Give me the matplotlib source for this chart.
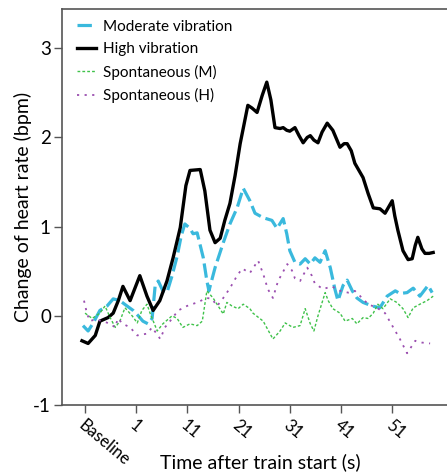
import numpy as np
import matplotlib
matplotlib.use('Agg')
import matplotlib.pyplot as plt
import matplotlib.transforms as mtransforms

plt.rcParams['font.family'] = ['Lato', 'DejaVu Sans']

# heart rate change (bpm) vs time after train start (s); baseline sits at x = -9
high_t = [-9.6, -8.4, -7.0, -6.1, -4.5, -3.5, -2.5, -1.6, -0.2, 1.7, 3.1, 4.3, 5.6, 7.0,
          8.2, 9.6, 10.7, 11.5, 13.5, 14.4, 15.4, 16.4, 17.4, 18.3, 19.3, 20.3, 21.3,
          22.0, 22.8, 23.6, 24.6, 25.6, 26.5, 27.3, 28.1, 29.1, 29.7, 30.4, 31.0, 32.0,
          32.8, 33.6, 34.4, 35.0, 35.7, 36.5, 37.3, 38.3, 39.4, 40.8, 41.6, 42.2, 43.0,
          43.7, 44.7, 45.3, 46.3, 47.3, 48.6, 49.6, 50.2, 51.0, 51.5, 52.1, 53.1, 54.1,
          54.9, 55.5, 56.0, 56.8, 57.4, 58.2, 59.0]
high_hr = [-0.28, -0.31, -0.22, -0.06, -0.02, 0.03, 0.17, 0.33, 0.17, 0.45, 0.22, 0.06,
           0.17, 0.39, 0.65, 0.99, 1.46, 1.63, 1.64, 1.40, 0.96, 0.82, 0.87, 1.07, 1.26,
           1.57, 1.93, 2.13, 2.36, 2.33, 2.28, 2.47, 2.62, 2.42, 2.11, 2.10, 2.11, 2.08,
           2.07, 2.11, 2.02, 1.94, 2.00, 2.02, 1.97, 1.94, 2.06, 2.16, 2.08, 1.89, 1.93,
           1.93, 1.85, 1.71, 1.61, 1.55, 1.37, 1.21, 1.20, 1.15, 1.21, 1.29, 1.12, 0.96,
           0.73, 0.63, 0.64, 0.79, 0.88, 0.75, 0.70, 0.70, 0.71]

mod_t = [-9.4, -8.4, -7.4, -6.1, -4.7, -3.5, -2.2, -0.8, 0.4, 1.4, 2.3, 3.3, 4.1, 4.7,
         5.3, 6.2, 7.0, 8.0, 9.0, 9.8, 10.5, 11.5, 12.1, 12.9, 14.1, 14.8, 15.2, 16.4,
         18.0, 19.3, 20.7, 21.9, 23.2, 24.2, 25.8, 27.5, 28.5, 29.7, 30.4, 31.0, 32.0,
         33.0, 34.0, 35.0, 35.9, 36.9, 37.9, 38.9, 39.8, 40.4, 41.4, 42.2, 43.2, 44.1,
         45.3, 47.1, 48.6, 50.0, 51.6, 52.5, 53.9, 55.1, 56.4, 58.0, 58.8]
mod_hr = [-0.11, -0.17, -0.08, 0.06, 0.11, 0.19, 0.17, 0.11, 0.06, 0.00, -0.06, -0.09,
          -0.03, 0.34, 0.39, 0.28, 0.26, 0.45, 0.67, 0.90, 1.03, 0.98, 0.92, 0.93, 0.65,
          0.39, 0.28, 0.54, 0.82, 1.03, 1.21, 1.43, 1.29, 1.15, 1.10, 1.07, 0.98, 1.09,
          0.92, 0.73, 0.60, 0.58, 0.64, 0.58, 0.65, 0.60, 0.73, 0.54, 0.30, 0.17, 0.34,
          0.40, 0.28, 0.20, 0.15, 0.11, 0.09, 0.22, 0.28, 0.25, 0.26, 0.31, 0.22, 0.34,
          0.26]

spm_t = [-9.0, -7.6, -6.1, -5.1, -4.1, -3.1, -2.2, -1.2, 0.2, 1.2, 2.1, 3.1, 3.7, 5.1,
         6.2, 8.0, 9.0, 10.1, 11.5, 12.9, 13.9, 14.8, 16.0, 17.0, 18.0, 18.7, 19.7,
         20.9, 21.9, 23.2, 23.8, 25.8, 27.7, 29.1, 30.1, 31.6, 33.0, 34.0, 35.0, 35.7,
         36.5, 37.9, 38.5, 39.4, 40.8, 41.8, 43.2, 44.1, 45.3, 46.3, 47.3, 48.2, 49.2,
         50.6, 51.9, 53.1, 54.1, 55.1, 56.4, 57.8, 59.0]
spm_hr = [0.03, -0.03, 0.03, 0.11, -0.02, -0.13, -0.06, 0.09, 0.00, -0.08, 0.06, 0.13,
          0.03, -0.17, -0.09, 0.00, -0.03, -0.13, -0.09, -0.11, -0.06, 0.28, 0.20, 0.11,
          0.02, 0.15, 0.11, 0.08, 0.13, 0.08, 0.03, -0.06, -0.26, -0.17, -0.08, -0.13,
          -0.11, 0.08, -0.09, -0.17, 0.00, 0.26, 0.17, 0.08, 0.03, -0.06, -0.03, -0.09,
          -0.02, -0.03, 0.03, 0.13, 0.08, 0.19, 0.15, 0.08, -0.02, 0.09, 0.13, 0.17, 0.22]

sph_t = [-9.2, -8.6, -8.0, -7.1, -5.5, -4.1, -3.1, -2.6, -1.6, -0.2, 1.2, 3.1, 4.1, 5.7,
         6.6, 7.6, 9.2, 10.9, 12.9, 14.8, 15.8, 16.8, 18.0, 19.3, 20.7, 21.7, 23.2, 24.8,
         25.8, 26.7, 27.7, 28.7, 30.5, 31.4, 32.0, 33.0, 34.4, 35.3, 35.9, 37.5, 39.2,
         40.8, 42.4, 43.7, 45.1, 46.3, 48.0, 49.6, 51.0, 52.5, 53.9, 55.5, 56.8, 58.4]
sph_hr = [0.17, 0.02, -0.06, -0.04, -0.06, -0.09, -0.13, -0.03, -0.09, -0.13, -0.22,
          -0.20, -0.13, -0.26, -0.13, -0.06, 0.06, 0.11, 0.15, 0.20, 0.19, 0.11, 0.20,
          0.31, 0.45, 0.53, 0.48, 0.62, 0.47, 0.30, 0.20, 0.39, 0.58, 0.51, 0.42, 0.39,
          0.54, 0.45, 0.36, 0.30, 0.33, 0.28, 0.26, 0.28, 0.20, 0.13, 0.09, 0.03, -0.11,
          -0.26, -0.42, -0.28, -0.30, -0.31]

tick_pos = [-9, 1, 11, 21, 31, 41, 51]
tick_lab = ['Baseline', '1', '11', '21', '31', '41', '51']

fig = plt.figure(figsize=(4.47, 4.74), dpi=100)
ax = fig.add_axes([62/447, 69/474, 385/447, 396/474])

ax.plot(mod_t, mod_hr, color='#3ab9dd', lw=2.3, dashes=(4.5, 1.6),
        solid_capstyle='round', label='Moderate vibration')
ax.plot(high_t, high_hr, color='black', lw=2.4, solid_joinstyle='round',
        label='High vibration')
ax.plot(spm_t, spm_hr, color='#3fc24a', lw=1.0, dashes=(2, 1.5),
        label='Spontaneous (M)')
ax.plot(sph_t, sph_hr, color='#9b4fb0', lw=1.3, dashes=(1.2, 3),
        label='Spontaneous (H)')

ax.set_xlim(-13.5, 61.7)
ax.set_ylim(-1, 3.44)
ax.spines['right'].set_visible(False)
for s in ['left', 'bottom', 'top']:
    ax.spines[s].set_color('#555555')
    ax.spines[s].set_linewidth(1.2)

ax.set_yticks([-1, 0, 1, 2, 3])
ax.set_yticklabels(['-1', '0', '1', '2', '3'])
ax.tick_params(axis='both', length=6, width=1, color='#555555', labelsize=13.5, pad=2)

# slanted time labels hang from the tick, reading down to the right
ax.set_xticks(tick_pos)
ax.set_xticklabels(tick_lab, rotation=-40, ha='left', va='top',
                   rotation_mode='anchor', fontsize=12)
shift = mtransforms.ScaledTranslation(1/100, -1/100, fig.dpi_scale_trans)
for lab in ax.get_xticklabels():
    lab.set_transform(lab.get_transform() + shift)

ax.set_ylabel('Change of heart rate (bpm)', fontsize=14, labelpad=1)
fig.text(260/447, 1 - 462/474, 'Time after train start (s)', fontsize=14,
         ha='center', va='center')

leg = ax.legend(loc='upper left', frameon=False, fontsize=11, handlelength=1.3,
                handletextpad=0.45, labelspacing=0.55, borderaxespad=0.3,
                bbox_to_anchor=(0.01, 1.0))

fig.savefig('out.png', dpi=100)
